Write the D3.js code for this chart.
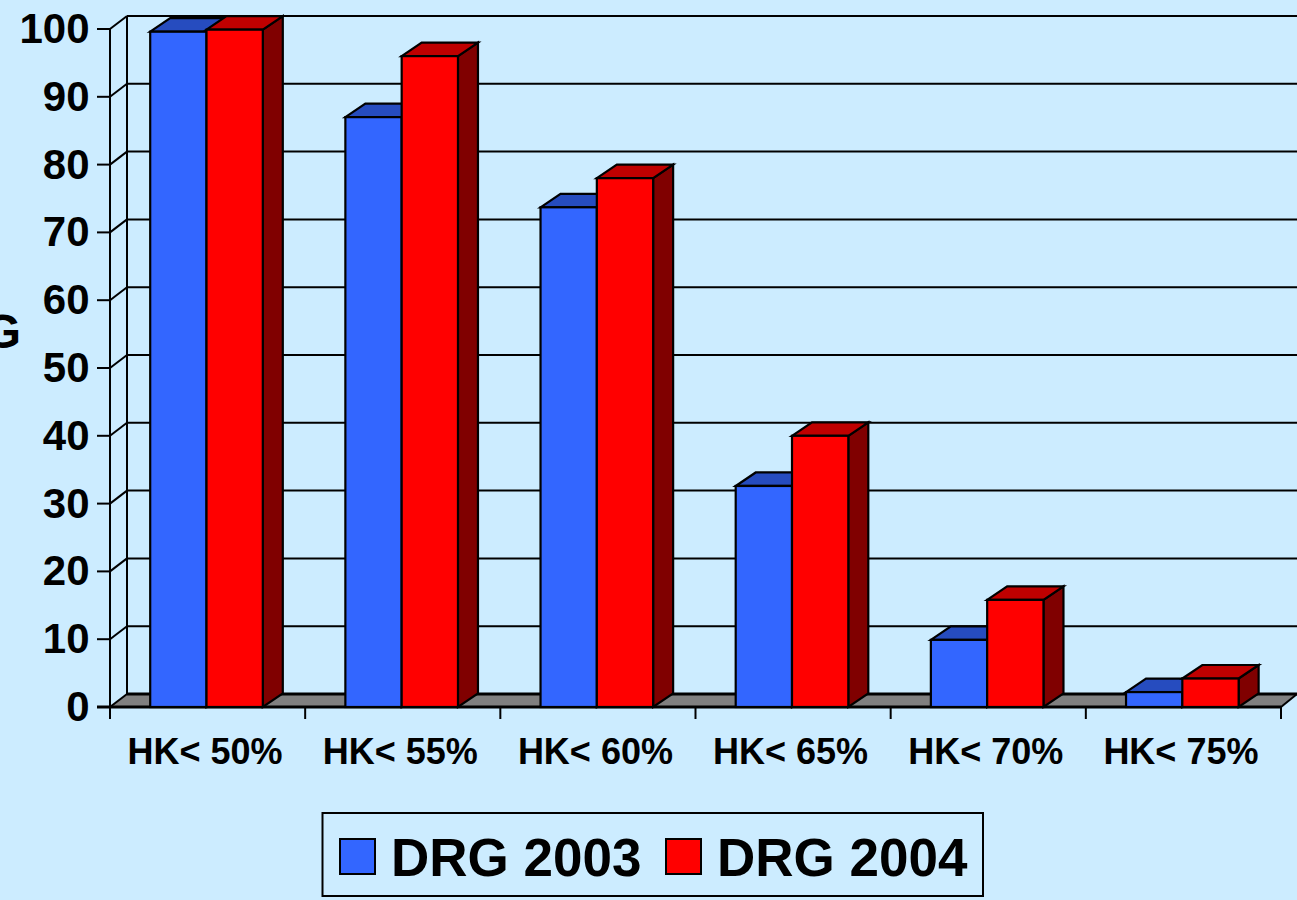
<!DOCTYPE html>
<html>
<head>
<meta charset="utf-8">
<script src="https://cdn.jsdelivr.net/npm/d3@7"></script>
<style>
html, body { margin: 0; padding: 0; background: #ccecff; overflow: hidden; }
svg { display: block; }
text { font-family: "Liberation Sans", Arial, sans-serif; font-weight: bold; fill: #000; }
</style>
</head>
<body>
<svg id="chart" width="1297" height="900"></svg>
<script>
var categories = ["HK< 50%", "HK< 55%", "HK< 60%", "HK< 65%", "HK< 70%", "HK< 75%"];
var drg2003 = [99.6, 87, 73.7, 32.6, 9.9, 2.2];
var drg2004 = [99.9, 96, 78, 40, 15.8, 4.2];
var yTicks = [0, 10, 20, 30, 40, 50, 60, 70, 80, 90, 100];
var seriesNames = ["DRG 2003", "DRG 2004"];

var svg = d3.select("#chart");

var colors = [
	{ front: "#3366ff", top: "#264cbf", side: "#19337f" },
	{ front: "#ff0000", top: "#bf0000", side: "#800000" }
];

var x = d3.scaleBand().domain(categories).range([110, 1281]);
var y = d3.scaleLinear().domain([0, 100]).range([707, 29]);

// depth of the fake 3d box
var wallDx = 17, wallDy = -13;
var barDx = 20, barDy = -13.5;
var barW = 56.3, barOffset = 40.2;

function line(g, x1, y1, x2, y2, w) {
	g.append("line")
		.attr("x1", x1).attr("y1", y1).attr("x2", x2).attr("y2", y2)
		.attr("stroke", "#000").attr("stroke-width", w || 2);
}

// floor
svg.append("path")
	.attr("d", d3.line()([[110, 707], [127, 694], [1297, 694], [1281, 707]]) + "Z")
	.attr("fill", "#808080");

// back wall and grid lines
var grid = svg.append("g");
yTicks.forEach(function(t) {
	line(grid, 110, y(t), 127, y(t) + wallDy, 2);
	line(grid, 127, y(t) + wallDy, 1297, y(t) + wallDy, t === 0 ? 3 : 2);
	line(grid, 97, y(t), 110, y(t), 2);
});
line(grid, 127, y(100) + wallDy, 127, y(0) + wallDy, 2);
line(grid, 110, y(100), 110, 719, 2);
line(grid, 97, y(0), 1281, y(0), 3);
line(grid, 1281, 707, 1297, 694, 2);

// x axis ticks
x.domain().forEach(function(c) {
	line(grid, x(c), 707, x(c), 719, 2);
});
line(grid, 1281, 707, 1281, 719, 2);

// bars
[drg2003, drg2004].forEach(function(values, s) {
	var g = svg.append("g");
	values.forEach(function(v, i) {
		var x0 = x(categories[i]) + barOffset + s * barW;
		var x1 = x0 + barW;
		var yt = y(v), yb = y(0);
		var c = colors[s];
		var side = [[x1, yt], [x1 + barDx, yt + barDy], [x1 + barDx, yb + barDy], [x1, yb]];
		var top = [[x0, yt], [x0 + barDx, yt + barDy], [x1 + barDx, yt + barDy], [x1, yt]];
		g.append("path").attr("d", d3.line()(side) + "Z")
			.attr("fill", c.side).attr("stroke", "#000").attr("stroke-width", 2.2);
		g.append("path").attr("d", d3.line()(top) + "Z")
			.attr("fill", c.top).attr("stroke", "#000").attr("stroke-width", 2.2);
		g.append("rect").attr("x", x0).attr("y", yt).attr("width", barW).attr("height", yb - yt)
			.attr("fill", c.front).attr("stroke", "#000").attr("stroke-width", 2.2);
	});
});

// y labels
svg.append("g").selectAll("text").data(yTicks).enter().append("text")
	.attr("x", 89.5)
	.attr("y", function(d) { return y(d) + 14; })
	.attr("text-anchor", "end")
	.attr("font-size", 42)
	.text(function(d) { return d; });

// cut off axis title, only its last letter shows
svg.append("text")
	.attr("x", 21).attr("y", 348)
	.attr("text-anchor", "end")
	.attr("font-size", 48)
	.text("G");

// x labels
svg.append("g").selectAll("text").data(categories).enter().append("text")
	.attr("x", function(d) { return x(d) + x.bandwidth() / 2 - 2.5; })
	.attr("y", 764)
	.attr("text-anchor", "middle")
	.attr("font-size", 36)
	.text(function(d) { return d; });

// legend
var legend = svg.append("g");
legend.append("rect")
	.attr("x", 322.5).attr("y", 813).attr("width", 660.5).attr("height", 83)
	.attr("fill", "none").attr("stroke", "#000").attr("stroke-width", 2);
[340, 666].forEach(function(lx, i) {
	legend.append("rect")
		.attr("x", lx).attr("y", 839).attr("width", 35).attr("height", 35)
		.attr("fill", colors[i].front).attr("stroke", "#000").attr("stroke-width", 2);
	legend.append("text")
		.attr("x", lx + 51).attr("y", 876)
		.attr("font-size", 53)
		.text(seriesNames[i]);
});
</script>
</body>
</html>
